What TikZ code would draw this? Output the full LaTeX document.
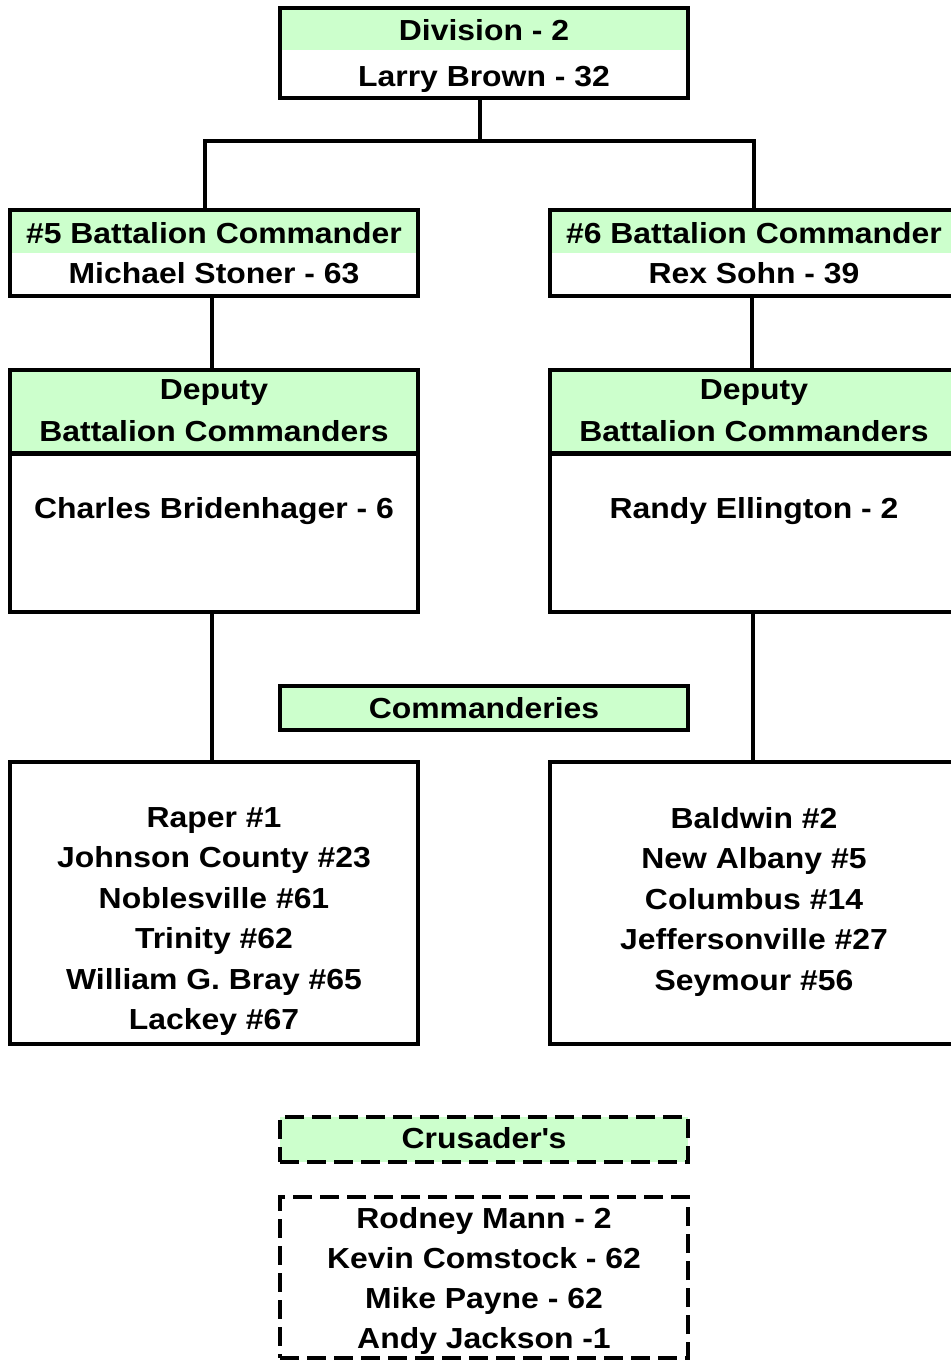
\documentclass[tikz,border=0pt]{standalone}
\usepackage{fontspec}
\setmainfont{Liberation Sans}[FakeStretch=1.1]
\definecolor{lightgreen}{RGB}{204,255,204}

\begin{document}
\begin{tikzpicture}[x=1pt,y=-1pt,
	frame/.style={draw,line width=4.5pt,minimum width=408pt,inner sep=0pt,outer sep=0pt},
	dashbox/.style={frame,dash pattern=on 19pt off 8pt},
	band/.style={fill=lightgreen,minimum width=403.5pt,inner sep=0pt,outer sep=0pt,anchor=north},
	txt/.style={font=\fontsize{29}{40.5}\selectfont\bfseries,inner sep=0pt,align=center},
	conn/.style={line width=4.5pt}]
	\useasboundingbox (0,0) rectangle (951,1361);
	\clip (0,0) rectangle (951,1361);
	
	\node[frame,minimum height=90pt] (div) at (484,53) {};
	\node[band,minimum height=40pt] (divband) at ([yshift=-2.25pt]div.north) {};
	\node[txt,anchor=base] (divtitle) at (484,40) {Division - 2};
	\node[txt,anchor=base] (divname) at (484,86) {Larry Brown - 32};
	
	\node[frame,minimum height=86pt] (bat5) at (214,253) {};
	\node[band,minimum height=41pt] (bat5band) at ([yshift=-2.25pt]bat5.north) {};
	\node[txt,anchor=base] (bat5title) at (214,243) {\#5 Battalion Commander};
	\node[txt,anchor=base] (bat5name) at (214,283) {Michael Stoner - 63};
	
	\node[frame,minimum height=86pt] (bat6) at (754,253) {};
	\node[band,minimum height=41pt] (bat6band) at ([yshift=-2.25pt]bat6.north) {};
	\node[txt,anchor=base] (bat6title) at (754,243) {\#6 Battalion Commander};
	\node[txt,anchor=base] (bat6name) at (754,283) {Rex Sohn - 39};
	
	\node[frame,minimum height=242pt] (dep5) at (214,491) {};
	\node[band,minimum height=81pt] (dep5band) at ([yshift=-2.25pt]dep5.north) {};
	\draw[line width=5pt] (dep5band.south west) -- (dep5band.south east);
	\node[txt,font=\fontsize{29}{42}\selectfont\bfseries,anchor=north] (dep5title) at (214,379) {Deputy\\Battalion Commanders};
	\node[txt,anchor=base] (dep5name) at (214,518) {Charles Bridenhager - 6};
	
	\node[frame,minimum height=242pt] (dep6) at (754,491) {};
	\node[band,minimum height=81pt] (dep6band) at ([yshift=-2.25pt]dep6.north) {};
	\draw[line width=5pt] (dep6band.south west) -- (dep6band.south east);
	\node[txt,font=\fontsize{29}{42}\selectfont\bfseries,anchor=north] (dep6title) at (754,379) {Deputy\\Battalion Commanders};
	\node[txt,anchor=base] (dep6name) at (754,518) {Randy Ellington - 2};
	
	\node[frame,fill=lightgreen,minimum height=44pt] (cmdhead) at (484,708) {};
	\node[txt,anchor=base] (cmdtitle) at (484,718) {Commanderies};
	
	\node[frame,minimum height=282pt] (com5) at (214,903) {};
	\node[txt,anchor=north] (com5list) at (214,807) {Raper \#1\\Johnson County \#23\\Noblesville \#61\\Trinity \#62\\William G. Bray \#65\\Lackey \#67};
	
	\node[frame,minimum height=282pt] (com6) at (754,903) {};
	\node[txt,anchor=north] (com6list) at (754,807) {Baldwin \#2\\New Albany \#5\\Columbus \#14\\Jeffersonville \#27\\Seymour \#56};
	
	\node[dashbox,fill=lightgreen,minimum height=45pt] (crushead) at (484,1139.5) {};
	\node[txt,anchor=base] (crustitle) at (484,1148) {Crusader\textquotesingle s};
	
	\node[dashbox,minimum height=161pt] (crus) at (484,1277.5) {};
	\node[txt,font=\fontsize{29}{40}\selectfont\bfseries,anchor=north] (cruslist) at (484,1207) {Rodney Mann - 2\\Kevin Comstock - 62\\Mike Payne - 62\\Andy Jackson -1};
	
	\draw[conn] ([xshift=-4pt]div.south) -- ++(0,43) coordinate (fork);
	\draw[conn] ([xshift=-9pt]bat5.north) |- (fork) -| (bat6.north);
	\draw[conn] ([xshift=-2pt]bat5.south) -- ([xshift=-2pt]dep5.north);
	\draw[conn] ([xshift=-2pt]bat6.south) -- ([xshift=-2pt]dep6.north);
	\draw[conn] ([xshift=-2pt]dep5.south) -- ([xshift=-2pt]com5.north);
	\draw[conn] ([xshift=-1pt]dep6.south) -- ([xshift=-1pt]com6.north);
\end{tikzpicture}
\end{document}
